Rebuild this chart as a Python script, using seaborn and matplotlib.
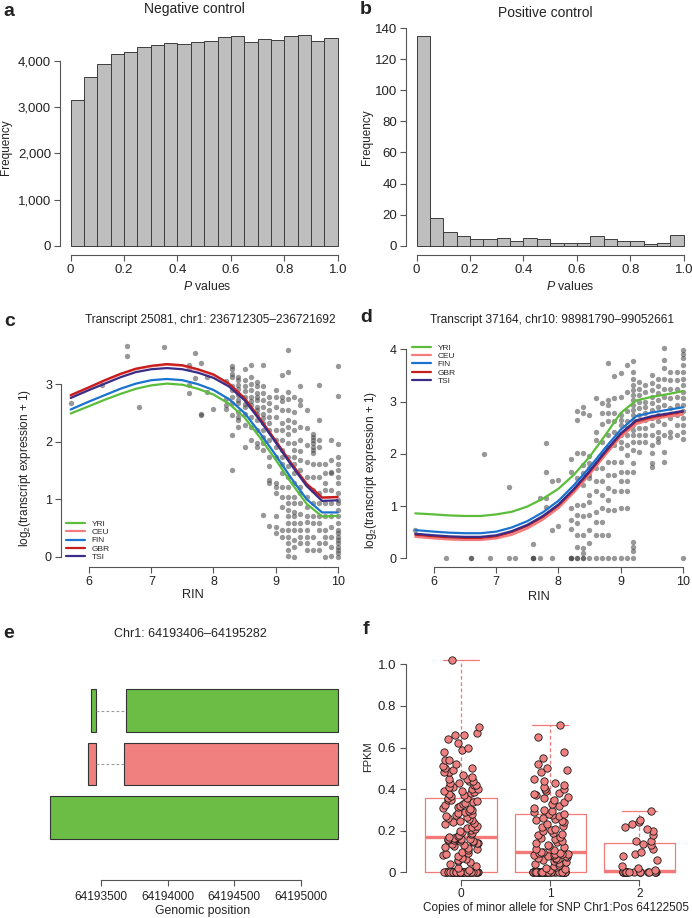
import matplotlib
matplotlib.use('Agg')
import matplotlib.pyplot as plt
import numpy as np
import pandas as pd
import seaborn as sns

sns.set_theme(style='ticks')
plt.rcParams['font.family'] = ['Liberation Sans', 'DejaVu Sans']
plt.rcParams['mathtext.fontset'] = 'custom'
plt.rcParams['mathtext.rm'] = 'Liberation Sans'
plt.rcParams['mathtext.it'] = 'Liberation Sans:italic'

# ---------------- data ----------------
# a / b : p value histograms (20 bins of 0.05)
pval_edges = [round(0.05 * i, 2) for i in range(21)]
neg_counts = [3150, 3660, 3930, 4150, 4200, 4295, 4345, 4380, 4360, 4405,
              4425, 4510, 4540, 4405, 4470, 4455, 4530, 4555, 4430, 4490]
pos_counts = [135, 18, 9, 6, 4, 4, 5, 3, 5, 4, 2, 2, 2, 6, 4, 3, 3, 1, 2, 7]

# c / d : population curves
pops = ['YRI', 'CEU', 'FIN', 'GBR', 'TSI']
pop_colors = ['#5bbd3a', '#f47c7c', '#1b73cf', '#c81d1d', '#3a2d88']
curve_rin = [5.7, 6.0, 6.25, 6.5, 6.75, 7.0, 7.25, 7.5, 7.75, 8.0,
             8.25, 8.5, 8.75, 9.0, 9.25, 9.5, 9.75, 10.0]
c_curves = {
    'YRI': [2.49, 2.62, 2.73, 2.83, 2.92, 2.98, 3.01, 2.99, 2.92, 2.82, 2.66, 2.42, 2.07, 1.69, 1.29, 0.92, 0.70, 0.71],
    'CEU': [2.80, 2.94, 3.06, 3.17, 3.26, 3.31, 3.34, 3.32, 3.25, 3.16, 3.00, 2.75, 2.39, 2.01, 1.62, 1.26, 1.02, 1.03],
    'FIN': [2.56, 2.70, 2.81, 2.92, 3.01, 3.07, 3.09, 3.07, 3.00, 2.90, 2.74, 2.50, 2.15, 1.77, 1.37, 1.00, 0.77, 0.77],
    'GBR': [2.81, 2.95, 3.07, 3.18, 3.27, 3.32, 3.35, 3.33, 3.26, 3.17, 3.01, 2.76, 2.40, 2.02, 1.63, 1.27, 1.03, 1.04],
    'TSI': [2.76, 2.90, 3.01, 3.12, 3.21, 3.26, 3.28, 3.26, 3.20, 3.11, 2.96, 2.72, 2.37, 1.99, 1.60, 1.23, 0.97, 0.98],
}
d_curves = {
    'YRI': [0.86, 0.84, 0.82, 0.81, 0.81, 0.84, 0.89, 0.99, 1.14, 1.33, 1.60, 1.94, 2.35, 2.78, 3.02, 3.09, 3.14, 3.20],
    'CEU': [0.41, 0.38, 0.36, 0.35, 0.35, 0.38, 0.45, 0.57, 0.74, 0.96, 1.26, 1.60, 1.97, 2.32, 2.57, 2.66, 2.71, 2.75],
    'FIN': [0.54, 0.51, 0.49, 0.48, 0.48, 0.51, 0.59, 0.71, 0.88, 1.10, 1.40, 1.74, 2.11, 2.46, 2.72, 2.79, 2.84, 2.89],
    'GBR': [0.45, 0.42, 0.40, 0.39, 0.39, 0.42, 0.50, 0.62, 0.79, 1.01, 1.31, 1.65, 2.02, 2.37, 2.62, 2.70, 2.75, 2.80],
    'TSI': [0.47, 0.44, 0.42, 0.41, 0.41, 0.44, 0.52, 0.64, 0.81, 1.03, 1.33, 1.67, 2.04, 2.39, 2.64, 2.72, 2.77, 2.82],
}

# c / d : individual samples, RIN -> log2 expression values
c_points = {
    5.7: [2.68], 6.2: [2.98], 6.6: [3.67, 3.49], 6.8: [2.61], 7.2: [3.64],
    7.6: [3.34, 3.28, 2.99, 2.84], 7.7: [3.55, 3.10], 7.8: [3.37, 2.48, 2.46],
    7.9: [3.13, 2.87], 8.0: [2.56], 8.2: [3.05, 2.75, 2.64, 2.57],
    8.3: [3.32, 3.26, 3.17, 3.13, 2.96, 2.90, 2.78, 2.68, 2.46, 2.11, 1.51],
    8.4: [3.13, 3.07, 2.99, 2.91, 2.81, 2.72, 2.67, 2.52, 2.43, 2.38, 2.26],
    8.5: [3.26, 3.07, 2.96, 2.88, 2.78, 2.66, 2.61, 2.49, 2.29, 1.91],
    8.6: [3.33, 3.13, 3.01, 2.90, 2.78, 2.71, 2.64, 2.43, 2.26, 2.03],
    8.7: [3.03, 2.96, 2.84, 2.78, 2.72, 2.61, 2.55, 2.49, 2.38, 2.20, 1.97, 1.91],
    8.8: [3.33, 2.96, 2.84, 2.72, 2.61, 2.49, 2.41, 2.32, 2.20, 2.09, 1.97, 1.86, 0.72],
    8.9: [2.78, 2.67, 2.55, 2.43, 2.32, 2.20, 2.03, 1.74, 1.57, 1.33, 1.28, 0.54],
    9.0: [2.90, 2.78, 2.61, 2.43, 2.20, 2.03, 1.91, 1.74, 1.28, 1.22, 1.10, 0.70, 0.52, 0.41],
    9.1: [3.16, 2.78, 2.70, 2.55, 2.32, 2.20, 2.03, 1.86, 1.74, 1.62, 1.45, 1.22, 1.04, 0.87, 0.46, 0.35],
    9.2: [3.59, 3.22, 2.87, 2.75, 2.55, 2.38, 2.26, 2.14, 1.97, 1.74, 1.57, 1.39, 1.22, 1.04, 0.93,
          0.81, 0.70, 0.58, 0.46, 0.35, 0.23, 0.12, 0.01],
    9.3: [2.78, 2.52, 2.35, 2.20, 1.97, 1.86, 1.74, 1.62, 1.45, 1.28, 1.04, 0.93, 0.78, 0.70, 0.58,
          0.46, 0.29, 0.17, 0.00],
    9.4: [2.97, 2.72, 2.64, 2.26, 2.03, 1.83, 1.68, 1.51, 1.22, 1.10, 0.93, 0.75, 0.58, 0.46, 0.35, 0.23],
    9.5: [2.55, 2.23, 1.94, 1.65, 1.39, 1.04, 0.87, 0.70, 0.61, 0.46, 0.35, 0.23, 0.12],
    9.6: [2.14, 2.09, 2.03, 1.97, 1.91, 1.86, 1.80, 1.62, 1.39, 1.16, 0.93, 0.70, 0.58, 0.35, 0.12],
    9.7: [2.99, 2.38, 2.03, 1.91, 1.62, 1.39, 1.10, 0.93, 0.70, 0.58, 0.46, 0.23, 0.12],
    9.8: [1.62, 1.45, 1.28, 1.16, 0.93, 0.70, 0.46, 0.35, 0.23, 0.00],
    9.9: [2.03, 1.68, 1.48, 1.45, 1.16, 0.93, 0.70, 0.52, 0.35, 0.17, 0.01],
    10.0: [3.32, 2.79, 1.96, 1.74, 1.62, 1.51, 1.39, 1.28, 1.10, 0.99, 0.93, 0.81, 0.70, 0.58, 0.46,
           0.41, 0.35, 0.29, 0.23, 0.17, 0.12, 0.06, 0.00],
}
d_points = {
    5.7: [0.55], 6.2: [0.0], 6.6: [0.0, 0.0], 6.8: [1.99], 6.9: [0.0],
    7.2: [1.37, 0.0], 7.3: [0.0], 7.6: [0.27, 0.0, 0.0, 0.0], 7.7: [1.15, 0.0],
    7.8: [2.21, 1.66, 1.15, 0.98], 7.9: [1.47, 0.54, 0.0], 8.0: [1.49, 0.61],
    8.2: [1.91, 1.66, 0.96, 0.73, 0.57, 0.0, 0.0, 0.0],
    8.3: [2.81, 2.65, 2.01, 1.53, 1.02, 0.83, 0.67, 0.45, 0.22, 0.0, 0.0],
    8.4: [2.90, 2.78, 2.01, 1.79, 1.63, 1.40, 1.02, 0.80, 0.45, 0.19, 0.10, 0.0, 0.0],
    8.5: [2.74, 1.95, 1.82, 1.72, 1.59, 1.53, 1.21, 1.08, 0.83, 0.54, 0.29, 0.0],
    8.6: [3.06, 2.42, 2.26, 1.72, 1.47, 1.28, 0.89, 0.70, 0.45, 0.0],
    8.7: [2.97, 2.78, 2.58, 2.23, 1.98, 1.72, 1.47, 1.21, 0.96, 0.70, 0.45, 0.0],
    8.8: [3.73, 3.03, 2.93, 2.78, 2.62, 2.36, 2.11, 1.85, 1.59, 1.34, 1.12, 0.93, 0.45, 0.0],
    8.9: [3.48, 3.06, 2.78, 2.62, 2.42, 2.17, 1.85, 1.59, 1.28, 0.93, 0.0],
    9.0: [3.54, 3.09, 2.74, 2.65, 2.55, 2.36, 2.23, 2.11, 1.85, 1.66, 1.47, 1.28, 0.96, 0.0],
    9.1: [3.70, 3.19, 2.81, 2.62, 2.49, 2.36, 2.17, 1.98, 1.66, 1.47, 1.28, 0.96, 0.0],
    9.2: [3.78, 3.57, 3.44, 3.32, 3.22, 3.13, 3.03, 2.93, 2.84, 2.74, 2.65, 2.55, 2.46, 2.36, 2.23,
          2.07, 1.82, 1.66, 0.32, 0.22, 0.13, 0.0],
    9.3: [3.38, 3.25, 3.13, 3.00, 2.87, 2.74, 2.62, 2.49, 2.36, 2.23, 2.04],
    9.4: [3.32, 3.19, 3.00, 2.90, 2.78, 2.65, 2.49, 2.36, 2.23],
    9.5: [3.51, 3.35, 3.22, 3.09, 2.97, 2.84, 2.68, 2.55, 2.36, 2.17, 2.01, 1.82, 1.75],
    9.6: [3.44, 3.29, 3.16, 3.03, 2.90, 2.74, 2.62, 2.42, 2.30, 2.23],
    9.7: [4.02, 3.80, 3.64, 3.44, 3.25, 3.09, 2.93, 2.74, 2.58, 2.36, 2.04, 1.85],
    9.8: [3.57, 3.41, 3.25, 3.06, 2.87, 2.68, 2.42, 2.33],
    9.9: [3.57, 3.41, 3.25, 3.09, 2.93, 2.74, 2.55, 2.36],
    10.0: [3.99, 3.92, 3.83, 3.70, 3.57, 3.44, 3.32, 3.19, 3.06, 2.93, 2.81, 2.68, 2.55, 2.42, 2.28, 0.0],
}

# e : transcript models (track 3 = top)
exon_track = [3, 3, 2, 2, 1]
exon_start = [64193427, 64193690, 64193406, 64193670, 64193119]
exon_end = [64193460, 64195282, 64193460, 64195282, 64195282]
track_colors = {3: '#6bbd45', 2: '#f08080', 1: '#6bbd45'}

# f : FPKM by genotype
fpkm_0 = ([0.0] * 45 +
          [0.01, 0.02, 0.03, 0.04, 0.05, 0.055, 0.06, 0.065, 0.07, 0.08, 0.085, 0.09, 0.095, 0.10,
           0.105, 0.11, 0.115, 0.12, 0.125, 0.13, 0.135, 0.14, 0.14, 0.145, 0.15, 0.15, 0.155,
           0.155, 0.16, 0.16, 0.16, 0.162, 0.164, 0.165, 0.165] +
          [0.17, 0.175, 0.18, 0.185, 0.19, 0.196, 0.20, 0.205, 0.21, 0.214, 0.22, 0.225, 0.23,
           0.236, 0.24, 0.245, 0.25, 0.256, 0.26, 0.265, 0.27, 0.274, 0.28, 0.285, 0.29, 0.296,
           0.30, 0.305, 0.31, 0.316, 0.32, 0.325, 0.33, 0.334, 0.34, 0.345, 0.35, 0.35, 0.355, 0.355] +
          [0.365, 0.37, 0.375, 0.38, 0.385, 0.39, 0.39, 0.40, 0.40, 0.41, 0.41, 0.42, 0.42, 0.43,
           0.43, 0.44, 0.44, 0.45, 0.45, 0.46, 0.47, 0.48, 0.48, 0.49, 0.50, 0.50, 0.51, 0.52,
           0.54, 0.54, 0.58, 0.59, 0.60, 0.62, 0.64, 0.66, 0.66, 0.67, 0.70, 1.02])
fpkm_1 = ([0.0] * 35 +
          [0.01, 0.015, 0.02, 0.025, 0.03, 0.035, 0.04, 0.045, 0.05, 0.055, 0.06, 0.062, 0.065,
           0.068, 0.07, 0.074, 0.078, 0.08, 0.083, 0.085, 0.088, 0.09, 0.09, 0.092, 0.094] +
          [0.098, 0.10, 0.105, 0.11, 0.12, 0.125, 0.13, 0.14, 0.145, 0.15, 0.16, 0.165, 0.17,
           0.18, 0.185, 0.19, 0.20, 0.205, 0.21, 0.22, 0.225, 0.23, 0.24, 0.245, 0.25, 0.255,
           0.26, 0.27, 0.275, 0.278] +
          [0.282, 0.29, 0.295, 0.30, 0.31, 0.32, 0.33, 0.34, 0.35, 0.355, 0.36, 0.37, 0.375,
           0.38, 0.39, 0.40, 0.40, 0.41, 0.42, 0.43, 0.44, 0.45, 0.48, 0.49, 0.50, 0.52, 0.55,
           0.58, 0.65, 0.707])
fpkm_2 = ([0.0] * 20 +
          [0.01, 0.02, 0.03, 0.06, 0.08, 0.09, 0.10, 0.11, 0.13, 0.135] +
          [0.15, 0.15, 0.18, 0.20, 0.21, 0.22, 0.23, 0.24, 0.25, 0.295])

# ---------------- layout helpers (pixel based) ----------------
W, H = 692, 918
fig = plt.figure(figsize=(W / 100, H / 100), dpi=100)
AX = '#555555'
TXT = '#222222'


def add_ax(l, t, r, b):
    return fig.add_axes([l / W, 1 - b / H, (r - l) / W, (b - t) / H])


def put(x, y, s, size=8.5, **kw):
    fig.text(x / W, 1 - y / H, s, ha='center', va='center', fontsize=size, color=TXT, **kw)


def r_style(ax, xb, yb=None, size=8.5, pad=2.5):
    ax.spines['top'].set_visible(False)
    ax.spines['right'].set_visible(False)
    for side in ['left', 'bottom']:
        ax.spines[side].set_color(AX)
        ax.spines[side].set_linewidth(0.8)
    ax.spines['bottom'].set_bounds(*xb)
    if yb is None:
        ax.spines['left'].set_visible(False)
        ax.tick_params(axis='y', left=False, labelleft=False)
    else:
        ax.spines['left'].set_bounds(*yb)
    ax.tick_params(direction='out', length=4, width=0.8, color=AX,
                   labelsize=size, labelcolor=TXT, pad=pad)
    ax.set_xlabel('')
    ax.set_ylabel('')
    ax.set_facecolor('none')


p_ticks = [0, 0.2, 0.4, 0.6, 0.8, 1.0]
p_labels = ['0', '0.2', '0.4', '0.6', '0.8', '1.0']
bin_mid = [(a + b) / 2 for a, b in zip(pval_edges[:-1], pval_edges[1:])]
neg_df = pd.DataFrame({'p': bin_mid, 'n': neg_counts})
pos_df = pd.DataFrame({'p': bin_mid, 'n': pos_counts})

# ---------------- a ----------------
ax = add_ax(60, 27, 348.4, 255)
sns.histplot(data=neg_df, x='p', weights='n', bins=pval_edges, color='#bebebe',
             edgecolor='#3c3c3c', linewidth=0.7, alpha=1, ax=ax)
ax.set_xlim(-0.04, 1.04)
ax.set_ylim(-201, 4734)
ax.set_xticks(p_ticks, p_labels)
ax.set_yticks([0, 1000, 2000, 3000, 4000], ['0', '1,000', '2,000', '3,000', '4,000'])
r_style(ax, (0, 1), (0, 4000), size=9.5)
put(9, 12, 'a', size=14, weight='bold')
put(194, 9, 'Negative control', size=10)
put(207, 287, r'$P$ values', size=8.8)
put(6, 147, 'Frequency', size=8.5, rotation=90)

# ---------------- b ----------------
ax = add_ax(406, 27, 692, 255)
sns.histplot(data=pos_df, x='p', weights='n', bins=pval_edges, color='#bebebe',
             edgecolor='#3c3c3c', linewidth=0.7, alpha=1, ax=ax)
ax.set_xlim(-0.04, 1.031)
ax.set_ylim(-6.0, 140.8)
ax.set_xticks(p_ticks, p_labels)
ax.set_yticks(range(0, 141, 20))
r_style(ax, (0, 1), (0, 140), size=9.5)
put(366, 10, 'b', size=14, weight='bold')
put(545, 13, 'Positive control', size=10)
put(570, 287, r'$P$ values', size=8.8)
put(367, 137, 'Frequency', size=8.5, rotation=90)


# ---------------- c / d ----------------
def points_frame(pts):
    rows = [(rin, v) for rin, vals in pts.items() for v in vals]
    return pd.DataFrame(rows, columns=['rin', 'expr'])


def curves_frame(curves):
    rows = [(p, r, v) for p in pops for r, v in zip(curve_rin, curves[p])]
    return pd.DataFrame(rows, columns=['pop', 'rin', 'expr'])


pal = dict(zip(pops, pop_colors))
ylab = r'log$_\mathregular{2}$(transcript expression + 1)'


def expr_panel(ax, pts, curves, yticks):
    sns.scatterplot(data=points_frame(pts), x='rin', y='expr', color='#444444', alpha=0.55,
                    s=15, linewidth=0, ax=ax, zorder=1)
    sns.lineplot(data=curves_frame(curves), x='rin', y='expr', hue='pop', hue_order=pops,
                 palette=pal, linewidth=1.6, errorbar=None, sort=False, ax=ax, zorder=2)
    ax.set_xticks([6, 7, 8, 9, 10])
    ax.set_yticks(yticks)
    r_style(ax, (6, 10), (yticks[0], yticks[-1]), size=9)
    handles, labels = ax.get_legend_handles_labels()
    return handles, labels


ax = add_ax(61, 336, 348.3, 566.7)
h, l = expr_panel(ax, c_points, c_curves, [0, 1, 2, 3])
ax.set_xlim(5.544, 10.172)
ax.set_ylim(-0.174, 3.838)
ax.legend(h, l, loc='lower left', bbox_to_anchor=(0.017, 0.025), frameon=False, fontsize=6,
          handlelength=2.3, handletextpad=0.8, labelspacing=0.05, borderpad=0, borderaxespad=0)
put(10, 322, 'c', size=14, weight='bold')
put(210, 320, 'Transcript 25081, chr1: 236712305–236721692', size=8.6)
put(193, 595, 'RIN', size=9.2)
put(25, 468, ylab, size=8.5, rotation=90)

ax = add_ax(405.6, 336, 692, 566.7)
h, l = expr_panel(ax, d_points, d_curves, [0, 1, 2, 3, 4])
ax.set_xlim(5.544, 10.148)
ax.set_ylim(-0.161, 4.255)
ax.legend(h, l, loc='upper left', bbox_to_anchor=(0.022, 0.965), frameon=False, fontsize=6,
          handlelength=2.3, handletextpad=0.8, labelspacing=0.05, borderpad=0, borderaxespad=0)
put(366, 318, 'd', size=14, weight='bold')
put(552, 320, 'Transcript 37164, chr10: 98981790–99052661', size=8.6)
put(539, 597, 'RIN', size=9.2)
put(371, 470, ylab, size=8.5, rotation=90)

# ---------------- e ----------------
ax = add_ax(38, 650, 350, 880)
starts = np.array(exon_start)
ends = np.array(exon_end)
ax.barh(exon_track, ends - starts, left=starts, height=0.8,
        color=[track_colors[t] for t in exon_track], edgecolor='#333333', linewidth=0.8)
for t in sorted(set(exon_track)):
    idx = [i for i, tr in enumerate(exon_track) if tr == t]
    for a_, b_ in zip(idx[:-1], idx[1:]):
        ax.plot([exon_end[a_], exon_start[b_]], [t, t], color='#9a9a9a', lw=0.8,
                ls=(0, (2.5, 2)))
ax.set_xlim(64193026.8, 64195370)
ax.set_ylim(-0.168, 4.131)
ax.set_xticks([64193500, 64194000, 64194500, 64195000],
              ['64193500', '64194000', '64194500', '64195000'])
r_style(ax, (64193500, 64195000), None, size=8.6, pad=4)
put(9, 633, 'e', size=14, weight='bold')
put(190, 634, 'Chr1: 64193406–64195282', size=9)
put(203, 911, 'Genomic position', size=8.8)

# ---------------- f ----------------
ax = add_ax(406, 645, 692, 880)
fdf = pd.DataFrame({
    'copies': [0] * len(fpkm_0) + [1] * len(fpkm_1) + [2] * len(fpkm_2),
    'fpkm': fpkm_0 + fpkm_1 + fpkm_2,
})
sns.boxplot(data=fdf, x='copies', y='fpkm', order=[0, 1, 2], whis=(0, 100), fill=False,
            color='#f47a7a', saturation=1, width=0.8, linewidth=0.9, showfliers=False,
            medianprops=dict(linewidth=2.4), whiskerprops=dict(linestyle=(0, (3, 2))), ax=ax)
np.random.seed(7)
sns.stripplot(data=fdf, x='copies', y='fpkm', order=[0, 1, 2], jitter=0.2, size=5.3,
              color='#f08080', edgecolor='#1a1a1a', linewidth=0.6, ax=ax, zorder=3)
ax.set_xlim(-0.617, 2.59)
ax.set_ylim(-0.037, 1.093)
ax.set_yticks(p_ticks, p_labels)
r_style(ax, (0, 2), (0, 1.0), size=9.5, pad=3)
ax.tick_params(axis='x', labelsize=8.6, pad=2)
put(366, 630, 'f', size=14, weight='bold')
put(368, 757, 'FPKM', size=8, rotation=90)
put(556, 908.5, 'Copies of minor allele for SNP Chr1:Pos 64122505', size=8.5)

fig.savefig('out.png', dpi=100, facecolor='white')
